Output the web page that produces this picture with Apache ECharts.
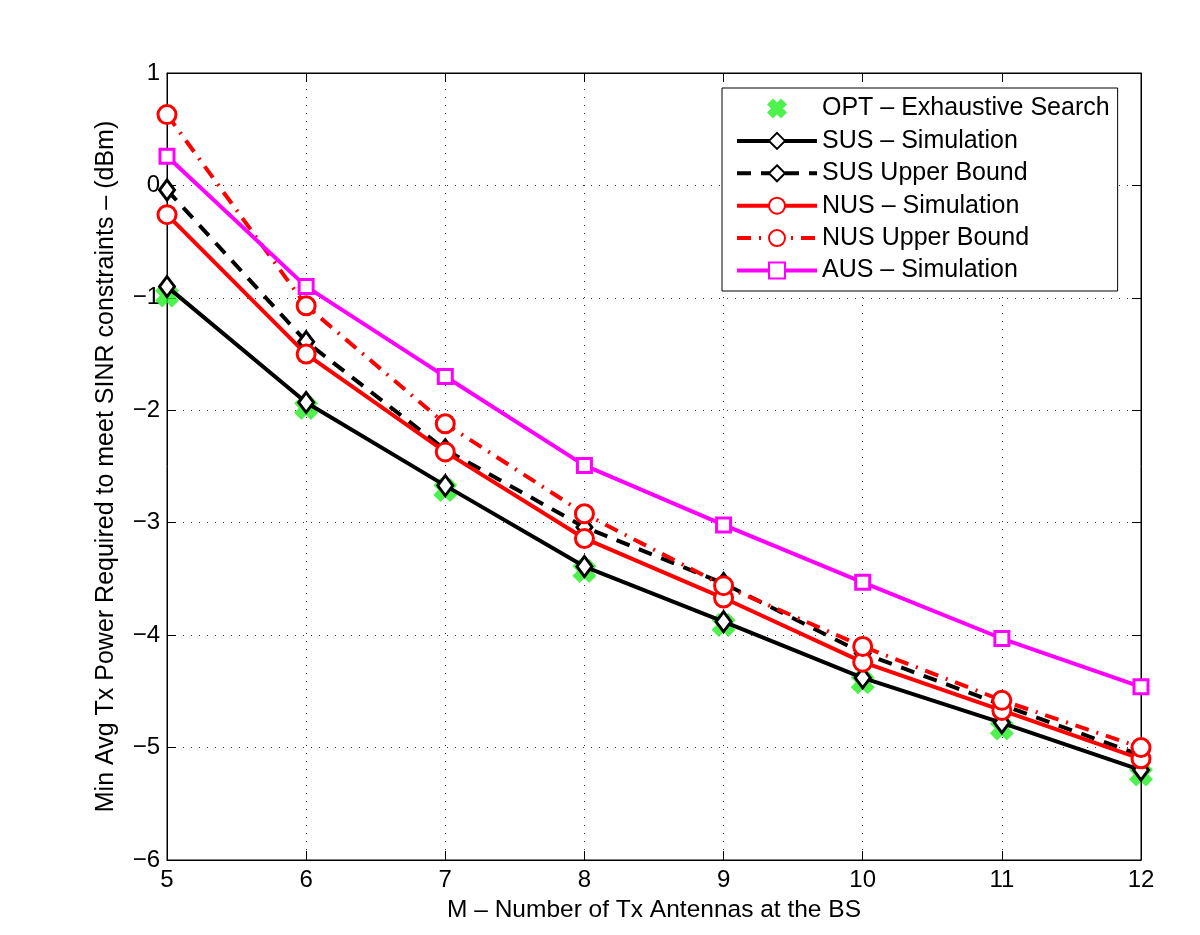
<!DOCTYPE html>
<html>
<head>
<meta charset="utf-8">
<script src="https://cdn.jsdelivr.net/npm/echarts@6/dist/echarts.min.js"></script>
<style>html,body{margin:0;padding:0;background:#fff}#c{width:1200px;height:935px}</style>
</head>
<body>
<div id="c"></div>
<script>
const xValues = [5, 6, 7, 8, 9, 10, 11, 12];
const yTicks = [1, 0, -1, -2, -3, -4, -5, -6];
const optExhaustive = [-0.98, -1.98, -2.71, -3.43, -3.91, -4.42, -4.83, -5.24];
const susSim = [-0.90, -1.93, -2.67, -3.39, -3.88, -4.38, -4.78, -5.20];
const susUB = [-0.04, -1.39, -2.35, -3.04, -3.54, -4.16, -4.62, -5.07];
const nusSim = [-0.26, -1.50, -2.37, -3.14, -3.67, -4.24, -4.67, -5.10];
const nusUB = [0.63, -1.07, -2.12, -2.92, -3.56, -4.10, -4.58, -5.00];
const ausSim = [0.26, -0.90, -1.70, -2.49, -3.02, -3.53, -4.03, -4.46];

const FONT = 'Liberation Sans, Arial, Helvetica, sans-serif';
const pair = arr => xValues.map((x, i) => [x, arr[i]]);
const xPath = 'path://M3,0 L5,2 L7,0 L10,3 L8,5 L10,7 L7,10 L5,8 L3,10 L0,7 L2,5 L0,3 Z';
const gridLine = {show: true, lineStyle: {color: '#333', type: [1, 7], width: 1}};
const boxLine = {show: true, onZero: false, lineStyle: {color: '#000', width: 1}};
const boxTick = {show: true, inside: true, length: 9, lineStyle: {color: '#000'}};

function lineSeries(name, data, color, type, symbol, size) {
  return {
    name, type: 'line', data: pair(data),
    symbol, symbolSize: size, showSymbol: true,
    lineStyle: {color, width: 4, type},
    itemStyle: {color: '#fff', borderColor: color, borderWidth: 3},
    emphasis: {disabled: true}, z: 3
  };
}

const chart = echarts.init(document.getElementById('c'), null, {renderer: 'canvas'});
chart.setOption({
  animation: false,
  backgroundColor: '#fff',
  grid: {left: 167, right: 59, top: 73, bottom: 75, show: true, borderColor: '#000', borderWidth: 1},
  legend: {
    orient: 'vertical', left: 722, top: 88,
    backgroundColor: '#fff', borderColor: '#000', borderWidth: 1,
    padding: [8, 8, 8, 13],
    itemWidth: 80, itemHeight: 20, itemGap: 7.4,
    lineStyle: {width: 4},
    textStyle: {fontFamily: FONT, fontSize: 25, color: '#000', lineHeight: 24},
    data: ['OPT – Exhaustive Search', 'SUS – Simulation', 'SUS Upper Bound', 'NUS – Simulation', 'NUS Upper Bound', 'AUS – Simulation']
  },
  xAxis: [{
    type: 'value', min: 5, max: 12, interval: 1,
    name: 'M – Number of Tx Antennas at the BS', nameLocation: 'middle', nameGap: 38,
    nameTextStyle: {fontFamily: FONT, fontSize: 24.5, color: '#000'},
    axisLine: boxLine, axisTick: boxTick,
    axisLabel: {fontFamily: FONT, fontSize: 24, color: '#000', margin: 8},
    splitLine: gridLine
  }, {
    type: 'value', min: 5, max: 12, interval: 1, position: 'top',
    axisLine: boxLine, axisTick: boxTick,
    axisLabel: {show: false}, splitLine: {show: false}
  }],
  yAxis: [{
    type: 'value', min: -6, max: 1, interval: 1,
    name: 'Min Avg Tx Power Required to meet SINR constraints – (dBm)', nameLocation: 'middle', nameGap: 48,
    nameTextStyle: {fontFamily: FONT, fontSize: 25, color: '#000'},
    axisLine: boxLine, axisTick: boxTick,
    axisLabel: {fontFamily: FONT, fontSize: 24, color: '#000', margin: 7,
      formatter: v => yTicks.includes(v) ? String(v).replace('-', '\u2212') : ''},
    splitLine: gridLine
  }, {
    type: 'value', min: -6, max: 1, interval: 1, position: 'right',
    axisLine: boxLine, axisTick: boxTick,
    axisLabel: {show: false}, splitLine: {show: false}
  }],
  series: [
    {
      name: 'OPT – Exhaustive Search', type: 'scatter', data: pair(optExhaustive),
      symbol: xPath, symbolSize: 24,
      itemStyle: {color: '#22ee22'}, emphasis: {disabled: true}, z: 2
    },
    lineSeries('SUS – Simulation', susSim, '#000', 'solid', 'diamond', [15, 20]),
    lineSeries('SUS Upper Bound', susUB, '#000', [14, 10], 'diamond', [15, 20]),
    lineSeries('NUS – Simulation', nusSim, '#f00', 'solid', 'circle', 18),
    lineSeries('NUS Upper Bound', nusUB, '#f00', [14, 8, 2, 8], 'circle', 18),
    lineSeries('AUS – Simulation', ausSim, '#f0f', 'solid', 'rect', 14)
  ]
});
</script>
</body>
</html>
